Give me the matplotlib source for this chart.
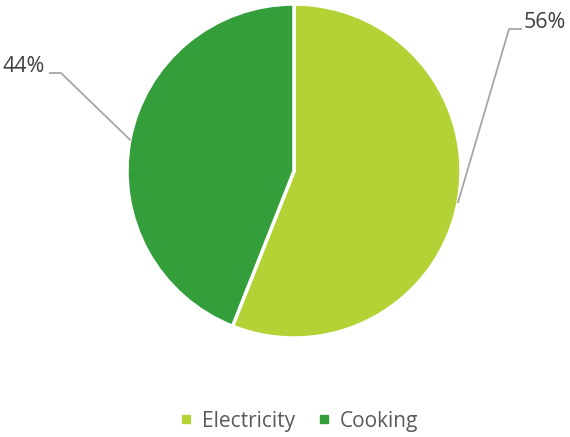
import numpy as np
import matplotlib as mpl
mpl.use('Agg')
import matplotlib.pyplot as plt
from matplotlib.lines import Line2D

labels = ["Electricity", "Cooking"]
shares = [56, 44]
colors = ["#B2D235", "#339E3A"]

plt.rcParams['font.family'] = ['Open Sans', 'DejaVu Sans']

W, H = 570, 437
fig = plt.figure(figsize=(W / 100, H / 100), dpi=100)
ax = fig.add_axes([0, 0, 1, 1])

cx, cy, r = 294, H - 171, 167
wedges, _ = ax.pie(shares, colors=colors, startangle=90, counterclock=False,
                   center=(cx, cy), radius=r, frame=True,
                   wedgeprops=dict(edgecolor='white', linewidth=2.5))
ax.set_xlim(0, W)
ax.set_ylim(0, H)
ax.set_aspect('equal')
ax.axis('off')

# label leader lines: elbow and text positions
elbows = [(509, H - 29), (61, H - 73)]
ends = [(521, H - 29), (50, H - 73)]
for w, v, el, en in zip(wedges, shares, elbows, ends):
    ang = np.deg2rad((w.theta1 + w.theta2) / 2)
    sx, sy = cx + r * np.cos(ang), cy + r * np.sin(ang)
    ax.plot([sx, el[0], en[0]], [sy, el[1], en[1]], color='#A6A6A6', lw=1.3)
    if en[0] > el[0]:
        ax.text(en[0] + 3, en[1] + 7, f"{v}%", ha='left', va='center',
                fontsize=15.5, color='#404040')
    else:
        ax.text(en[0] - 5, en[1] + 7, f"{v}%", ha='right', va='center',
                fontsize=15.5, color='#404040')

handles = [Line2D([], [], marker='s', linestyle='none', markersize=6,
                  markerfacecolor=c, markeredgecolor=c) for c in colors]
fig.legend(handles, labels, loc='center', bbox_to_anchor=(0.523, 1 - 421 / H),
           ncol=2, frameon=False, fontsize=15, handletextpad=0.35,
           handlelength=0.8, columnspacing=1.0, labelcolor='#595959')

fig.savefig('out.png', dpi=100)
